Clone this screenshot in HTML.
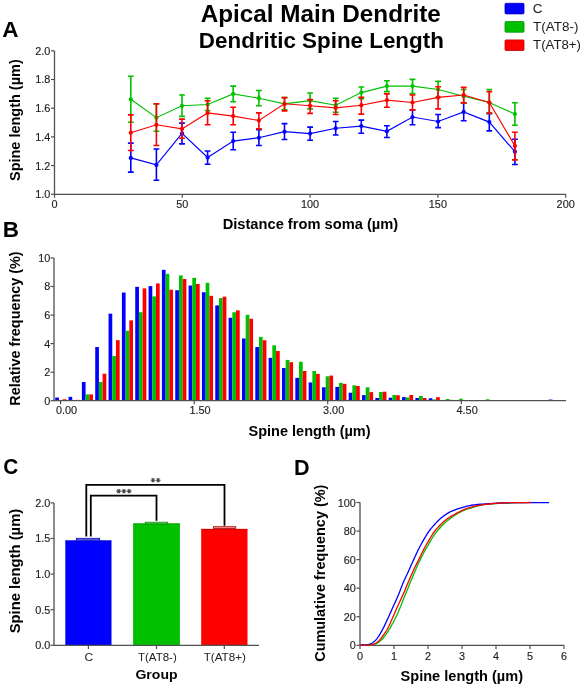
<!DOCTYPE html>
<html><head><meta charset="utf-8"><style>
html,body{margin:0;padding:0;background:#fff;}
svg{display:block;will-change:transform;filter:blur(0.3px);}
text{font-family:"Liberation Sans",sans-serif;}
.tk{font-size:11.7px;fill:#1e1e1e;stroke:#1e1e1e;stroke-width:0.15px;}
.at{font-size:13px;font-weight:bold;fill:#000;}
.t1{font-size:22px;font-weight:bold;fill:#000;}
.t2{font-size:19px;font-weight:bold;fill:#000;}
.pl{font-size:19px;font-weight:bold;fill:#000;}
.lg{font-size:14px;fill:#1a1a1a;}
.st{font-size:9px;fill:#222;}
</style></head><body>
<svg width="583" height="688" viewBox="0 0 583 688">
<rect width="583" height="688" fill="#fff"/>
<path d="M54.5 50.8V194.3H566" stroke="#505050" stroke-width="1.3" fill="none"/>
<path d="M51 194.3H54.5" stroke="#505050" stroke-width="1.2"/>
<text x="50.40" y="198.20" class="tk" text-anchor="end" textLength="15.13" lengthAdjust="spacingAndGlyphs">1.0</text>
<path d="M51 165.6H54.5" stroke="#505050" stroke-width="1.2"/>
<text x="50.40" y="169.50" class="tk" text-anchor="end" textLength="15.13" lengthAdjust="spacingAndGlyphs">1.2</text>
<path d="M51 136.9H54.5" stroke="#505050" stroke-width="1.2"/>
<text x="50.40" y="140.80" class="tk" text-anchor="end" textLength="15.13" lengthAdjust="spacingAndGlyphs">1.4</text>
<path d="M51 108.2H54.5" stroke="#505050" stroke-width="1.2"/>
<text x="50.40" y="112.10" class="tk" text-anchor="end" textLength="15.13" lengthAdjust="spacingAndGlyphs">1.6</text>
<path d="M51 79.5H54.5" stroke="#505050" stroke-width="1.2"/>
<text x="50.40" y="83.40" class="tk" text-anchor="end" textLength="15.13" lengthAdjust="spacingAndGlyphs">1.8</text>
<path d="M51 50.8H54.5" stroke="#505050" stroke-width="1.2"/>
<text x="50.40" y="54.70" class="tk" text-anchor="end" textLength="15.13" lengthAdjust="spacingAndGlyphs">2.0</text>
<path d="M54.5 194.3V197.8" stroke="#505050" stroke-width="1.2"/>
<text x="54.50" y="208.20" class="tk" text-anchor="middle" textLength="6.05" lengthAdjust="spacingAndGlyphs">0</text>
<path d="M182.3 194.3V197.8" stroke="#505050" stroke-width="1.2"/>
<text x="182.30" y="208.20" class="tk" text-anchor="middle" textLength="12.10" lengthAdjust="spacingAndGlyphs">50</text>
<path d="M310.1 194.3V197.8" stroke="#505050" stroke-width="1.2"/>
<text x="310.10" y="208.20" class="tk" text-anchor="middle" textLength="18.16" lengthAdjust="spacingAndGlyphs">100</text>
<path d="M437.9 194.3V197.8" stroke="#505050" stroke-width="1.2"/>
<text x="437.90" y="208.20" class="tk" text-anchor="middle" textLength="18.16" lengthAdjust="spacingAndGlyphs">150</text>
<path d="M565.7 194.3V197.8" stroke="#505050" stroke-width="1.2"/>
<text x="565.70" y="208.20" class="tk" text-anchor="middle" textLength="18.16" lengthAdjust="spacingAndGlyphs">200</text>
<polyline points="130.8,157.9 156.4,164.9 182.0,133.3 207.6,157.4 233.2,141.1 258.9,137.8 284.5,131.7 310.1,133.6 335.7,128.3 361.3,126.1 386.9,131.3 412.5,117.0 438.1,121.5 463.7,111.9 489.3,122.1 514.9,151.7" fill="none" stroke="#0000ff" stroke-width="1.15"/>
<path d="M130.8 143.1V172.1M127.9 143.1H133.7M127.9 172.1H133.7" stroke="#0000ff" stroke-width="1.6" fill="none"/>
<circle cx="130.8" cy="157.9" r="2.1" fill="#0000ff"/>
<path d="M156.4 149.0V180.2M153.5 149.0H159.3M153.5 180.2H159.3" stroke="#0000ff" stroke-width="1.6" fill="none"/>
<circle cx="156.4" cy="164.9" r="2.1" fill="#0000ff"/>
<path d="M182.0 123.1V143.9M179.1 123.1H184.9M179.1 143.9H184.9" stroke="#0000ff" stroke-width="1.6" fill="none"/>
<circle cx="182.0" cy="133.3" r="2.1" fill="#0000ff"/>
<path d="M207.6 151.0V164.3M204.7 151.0H210.5M204.7 164.3H210.5" stroke="#0000ff" stroke-width="1.6" fill="none"/>
<circle cx="207.6" cy="157.4" r="2.1" fill="#0000ff"/>
<path d="M233.2 132.3V149.7M230.3 132.3H236.1M230.3 149.7H236.1" stroke="#0000ff" stroke-width="1.6" fill="none"/>
<circle cx="233.2" cy="141.1" r="2.1" fill="#0000ff"/>
<path d="M258.9 129.7V145.5M256.0 129.7H261.8M256.0 145.5H261.8" stroke="#0000ff" stroke-width="1.6" fill="none"/>
<circle cx="258.9" cy="137.8" r="2.1" fill="#0000ff"/>
<path d="M284.5 123.6V139.5M281.6 123.6H287.4M281.6 139.5H287.4" stroke="#0000ff" stroke-width="1.6" fill="none"/>
<circle cx="284.5" cy="131.7" r="2.1" fill="#0000ff"/>
<path d="M310.1 127.1V140.3M307.2 127.1H313.0M307.2 140.3H313.0" stroke="#0000ff" stroke-width="1.6" fill="none"/>
<circle cx="310.1" cy="133.6" r="2.1" fill="#0000ff"/>
<path d="M335.7 121.5V135.0M332.8 121.5H338.6M332.8 135.0H338.6" stroke="#0000ff" stroke-width="1.6" fill="none"/>
<circle cx="335.7" cy="128.3" r="2.1" fill="#0000ff"/>
<path d="M361.3 120.1V133.3M358.4 120.1H364.2M358.4 133.3H364.2" stroke="#0000ff" stroke-width="1.6" fill="none"/>
<circle cx="361.3" cy="126.1" r="2.1" fill="#0000ff"/>
<path d="M386.9 125.7V137.5M384.0 125.7H389.8M384.0 137.5H389.8" stroke="#0000ff" stroke-width="1.6" fill="none"/>
<circle cx="386.9" cy="131.3" r="2.1" fill="#0000ff"/>
<path d="M412.5 109.9V124.8M409.6 109.9H415.4M409.6 124.8H415.4" stroke="#0000ff" stroke-width="1.6" fill="none"/>
<circle cx="412.5" cy="117.0" r="2.1" fill="#0000ff"/>
<path d="M438.1 114.5V127.6M435.2 114.5H441.0M435.2 127.6H441.0" stroke="#0000ff" stroke-width="1.6" fill="none"/>
<circle cx="438.1" cy="121.5" r="2.1" fill="#0000ff"/>
<path d="M463.7 102.9V120.7M460.8 102.9H466.6M460.8 120.7H466.6" stroke="#0000ff" stroke-width="1.6" fill="none"/>
<circle cx="463.7" cy="111.9" r="2.1" fill="#0000ff"/>
<path d="M489.3 113.4V130.9M486.4 113.4H492.2M486.4 130.9H492.2" stroke="#0000ff" stroke-width="1.6" fill="none"/>
<circle cx="489.3" cy="122.1" r="2.1" fill="#0000ff"/>
<path d="M514.9 139.3V164.5M512.0 139.3H517.8M512.0 164.5H517.8" stroke="#0000ff" stroke-width="1.6" fill="none"/>
<circle cx="514.9" cy="151.7" r="2.1" fill="#0000ff"/>
<polyline points="130.8,99.3 156.4,117.7 182.0,105.8 207.6,104.5 233.2,93.9 258.9,98.2 284.5,103.8 310.1,100.7 335.7,105.2 361.3,92.6 386.9,86.1 412.5,86.1 438.1,89.5 463.7,96.3 489.3,102.5 514.9,114.1" fill="none" stroke="#00c000" stroke-width="1.15"/>
<path d="M130.8 76.3V122.3M127.9 76.3H133.7M127.9 122.3H133.7" stroke="#00c000" stroke-width="1.6" fill="none"/>
<circle cx="130.8" cy="99.3" r="2.1" fill="#00c000"/>
<path d="M156.4 104.0V131.3M153.5 104.0H159.3M153.5 131.3H159.3" stroke="#00c000" stroke-width="1.6" fill="none"/>
<circle cx="156.4" cy="117.7" r="2.1" fill="#00c000"/>
<path d="M182.0 95.0V116.4M179.1 95.0H184.9M179.1 116.4H184.9" stroke="#00c000" stroke-width="1.6" fill="none"/>
<circle cx="182.0" cy="105.8" r="2.1" fill="#00c000"/>
<path d="M207.6 98.2V110.5M204.7 98.2H210.5M204.7 110.5H210.5" stroke="#00c000" stroke-width="1.6" fill="none"/>
<circle cx="207.6" cy="104.5" r="2.1" fill="#00c000"/>
<path d="M233.2 86.1V101.7M230.3 86.1H236.1M230.3 101.7H236.1" stroke="#00c000" stroke-width="1.6" fill="none"/>
<circle cx="233.2" cy="93.9" r="2.1" fill="#00c000"/>
<path d="M258.9 90.5V105.8M256.0 90.5H261.8M256.0 105.8H261.8" stroke="#00c000" stroke-width="1.6" fill="none"/>
<circle cx="258.9" cy="98.2" r="2.1" fill="#00c000"/>
<path d="M284.5 97.6V109.9M281.6 97.6H287.4M281.6 109.9H287.4" stroke="#00c000" stroke-width="1.6" fill="none"/>
<circle cx="284.5" cy="103.8" r="2.1" fill="#00c000"/>
<path d="M310.1 93.0V108.9M307.2 93.0H313.0M307.2 108.9H313.0" stroke="#00c000" stroke-width="1.6" fill="none"/>
<circle cx="310.1" cy="100.7" r="2.1" fill="#00c000"/>
<path d="M335.7 98.2V112.2M332.8 98.2H338.6M332.8 112.2H338.6" stroke="#00c000" stroke-width="1.6" fill="none"/>
<circle cx="335.7" cy="105.2" r="2.1" fill="#00c000"/>
<path d="M361.3 87.0V98.7M358.4 87.0H364.2M358.4 98.7H364.2" stroke="#00c000" stroke-width="1.6" fill="none"/>
<circle cx="361.3" cy="92.6" r="2.1" fill="#00c000"/>
<path d="M386.9 80.8V91.6M384.0 80.8H389.8M384.0 91.6H389.8" stroke="#00c000" stroke-width="1.6" fill="none"/>
<circle cx="386.9" cy="86.1" r="2.1" fill="#00c000"/>
<path d="M412.5 79.4V93.6M409.6 79.4H415.4M409.6 93.6H415.4" stroke="#00c000" stroke-width="1.6" fill="none"/>
<circle cx="412.5" cy="86.1" r="2.1" fill="#00c000"/>
<path d="M438.1 81.4V97.4M435.2 81.4H441.0M435.2 97.4H441.0" stroke="#00c000" stroke-width="1.6" fill="none"/>
<circle cx="438.1" cy="89.5" r="2.1" fill="#00c000"/>
<path d="M463.7 89.5V103.2M460.8 89.5H466.6M460.8 103.2H466.6" stroke="#00c000" stroke-width="1.6" fill="none"/>
<circle cx="463.7" cy="96.3" r="2.1" fill="#00c000"/>
<path d="M489.3 89.5V113.4M486.4 89.5H492.2M486.4 113.4H492.2" stroke="#00c000" stroke-width="1.6" fill="none"/>
<circle cx="489.3" cy="102.5" r="2.1" fill="#00c000"/>
<path d="M514.9 102.7V125.3M512.0 102.7H517.8M512.0 125.3H517.8" stroke="#00c000" stroke-width="1.6" fill="none"/>
<circle cx="514.9" cy="114.1" r="2.1" fill="#00c000"/>
<polyline points="130.8,132.7 156.4,124.8 182.0,128.9 207.6,112.9 233.2,116.1 258.9,120.5 284.5,103.8 310.1,105.8 335.7,107.9 361.3,105.2 386.9,100.2 412.5,102.5 438.1,97.4 463.7,95.0 489.3,102.5 514.9,145.9" fill="none" stroke="#ff0000" stroke-width="1.15"/>
<path d="M130.8 114.9V150.5M127.9 114.9H133.7M127.9 150.5H133.7" stroke="#ff0000" stroke-width="1.6" fill="none"/>
<circle cx="130.8" cy="132.7" r="2.1" fill="#ff0000"/>
<path d="M156.4 103.8V145.5M153.5 103.8H159.3M153.5 145.5H159.3" stroke="#ff0000" stroke-width="1.6" fill="none"/>
<circle cx="156.4" cy="124.8" r="2.1" fill="#ff0000"/>
<path d="M182.0 119.1V138.3M179.1 119.1H184.9M179.1 138.3H184.9" stroke="#ff0000" stroke-width="1.6" fill="none"/>
<circle cx="182.0" cy="128.9" r="2.1" fill="#ff0000"/>
<path d="M207.6 100.7V124.8M204.7 100.7H210.5M204.7 124.8H210.5" stroke="#ff0000" stroke-width="1.6" fill="none"/>
<circle cx="207.6" cy="112.9" r="2.1" fill="#ff0000"/>
<path d="M233.2 107.2V124.8M230.3 107.2H236.1M230.3 124.8H236.1" stroke="#ff0000" stroke-width="1.6" fill="none"/>
<circle cx="233.2" cy="116.1" r="2.1" fill="#ff0000"/>
<path d="M258.9 112.9V128.9M256.0 112.9H261.8M256.0 128.9H261.8" stroke="#ff0000" stroke-width="1.6" fill="none"/>
<circle cx="258.9" cy="120.5" r="2.1" fill="#ff0000"/>
<path d="M284.5 97.6V110.9M281.6 97.6H287.4M281.6 110.9H287.4" stroke="#ff0000" stroke-width="1.6" fill="none"/>
<circle cx="284.5" cy="103.8" r="2.1" fill="#ff0000"/>
<path d="M310.1 99.6V113.4M307.2 99.6H313.0M307.2 113.4H313.0" stroke="#ff0000" stroke-width="1.6" fill="none"/>
<circle cx="310.1" cy="105.8" r="2.1" fill="#ff0000"/>
<path d="M335.7 100.7V114.5M332.8 100.7H338.6M332.8 114.5H338.6" stroke="#ff0000" stroke-width="1.6" fill="none"/>
<circle cx="335.7" cy="107.9" r="2.1" fill="#ff0000"/>
<path d="M361.3 97.2V114.1M358.4 97.2H364.2M358.4 114.1H364.2" stroke="#ff0000" stroke-width="1.6" fill="none"/>
<circle cx="361.3" cy="105.2" r="2.1" fill="#ff0000"/>
<path d="M386.9 93.9V107.2M384.0 93.9H389.8M384.0 107.2H389.8" stroke="#ff0000" stroke-width="1.6" fill="none"/>
<circle cx="386.9" cy="100.2" r="2.1" fill="#ff0000"/>
<path d="M412.5 95.0V109.9M409.6 95.0H415.4M409.6 109.9H415.4" stroke="#ff0000" stroke-width="1.6" fill="none"/>
<circle cx="412.5" cy="102.5" r="2.1" fill="#ff0000"/>
<path d="M438.1 86.8V108.9M435.2 86.8H441.0M435.2 108.9H441.0" stroke="#ff0000" stroke-width="1.6" fill="none"/>
<circle cx="438.1" cy="97.4" r="2.1" fill="#ff0000"/>
<path d="M463.7 87.4V102.9M460.8 87.4H466.6M460.8 102.9H466.6" stroke="#ff0000" stroke-width="1.6" fill="none"/>
<circle cx="463.7" cy="95.0" r="2.1" fill="#ff0000"/>
<path d="M489.3 91.6V113.4M486.4 91.6H492.2M486.4 113.4H492.2" stroke="#ff0000" stroke-width="1.6" fill="none"/>
<circle cx="489.3" cy="102.5" r="2.1" fill="#ff0000"/>
<path d="M514.9 132.3V159.9M512.0 132.3H517.8M512.0 159.9H517.8" stroke="#ff0000" stroke-width="1.6" fill="none"/>
<circle cx="514.9" cy="145.9" r="2.1" fill="#ff0000"/>
<text x="222.65" y="228.80" textLength="175.56" lengthAdjust="spacingAndGlyphs" style="font-size:14.00px;font-weight:bold;fill:#000">Distance from soma (µm)</text>
<text transform="translate(19.50,181.03) rotate(-90)" x="0" y="0" textLength="121.75" lengthAdjust="spacingAndGlyphs" style="font-size:14.00px;font-weight:bold;fill:#000">Spine length (µm)</text>
<rect x="55.20" y="397.56" width="3.70" height="3.14" fill="#0000ff"/>
<rect x="58.90" y="399.99" width="3.70" height="0.71" fill="#00c000"/>
<rect x="62.60" y="399.27" width="3.70" height="1.43" fill="#ff0000"/>
<rect x="68.54" y="396.85" width="3.70" height="3.85" fill="#0000ff"/>
<rect x="72.24" y="400.41" width="3.70" height="0.29" fill="#00c000"/>
<rect x="75.94" y="399.84" width="3.70" height="0.86" fill="#ff0000"/>
<rect x="81.88" y="382.01" width="3.70" height="18.69" fill="#0000ff"/>
<rect x="85.58" y="394.42" width="3.70" height="6.28" fill="#00c000"/>
<rect x="89.28" y="394.42" width="3.70" height="6.28" fill="#ff0000"/>
<rect x="95.22" y="347.04" width="3.70" height="53.66" fill="#0000ff"/>
<rect x="98.92" y="382.01" width="3.70" height="18.69" fill="#00c000"/>
<rect x="102.62" y="373.73" width="3.70" height="26.97" fill="#ff0000"/>
<rect x="108.56" y="313.65" width="3.70" height="87.05" fill="#0000ff"/>
<rect x="112.26" y="356.03" width="3.70" height="44.67" fill="#00c000"/>
<rect x="115.96" y="340.20" width="3.70" height="60.50" fill="#ff0000"/>
<rect x="121.90" y="292.53" width="3.70" height="108.17" fill="#0000ff"/>
<rect x="125.60" y="330.78" width="3.70" height="69.92" fill="#00c000"/>
<rect x="129.30" y="320.36" width="3.70" height="80.34" fill="#ff0000"/>
<rect x="135.24" y="286.83" width="3.70" height="113.87" fill="#0000ff"/>
<rect x="138.94" y="312.23" width="3.70" height="88.47" fill="#00c000"/>
<rect x="142.64" y="288.40" width="3.70" height="112.30" fill="#ff0000"/>
<rect x="148.58" y="286.11" width="3.70" height="114.59" fill="#0000ff"/>
<rect x="152.28" y="296.39" width="3.70" height="104.31" fill="#00c000"/>
<rect x="155.98" y="283.40" width="3.70" height="117.30" fill="#ff0000"/>
<rect x="161.92" y="269.84" width="3.70" height="130.86" fill="#0000ff"/>
<rect x="165.62" y="273.84" width="3.70" height="126.86" fill="#00c000"/>
<rect x="169.32" y="289.68" width="3.70" height="111.02" fill="#ff0000"/>
<rect x="175.26" y="290.25" width="3.70" height="110.45" fill="#0000ff"/>
<rect x="178.96" y="275.41" width="3.70" height="125.29" fill="#00c000"/>
<rect x="182.66" y="278.98" width="3.70" height="121.72" fill="#ff0000"/>
<rect x="188.60" y="285.54" width="3.70" height="115.16" fill="#0000ff"/>
<rect x="192.30" y="277.84" width="3.70" height="122.86" fill="#00c000"/>
<rect x="196.00" y="283.97" width="3.70" height="116.73" fill="#ff0000"/>
<rect x="201.94" y="292.25" width="3.70" height="108.45" fill="#0000ff"/>
<rect x="205.64" y="282.83" width="3.70" height="117.87" fill="#00c000"/>
<rect x="209.34" y="295.82" width="3.70" height="104.88" fill="#ff0000"/>
<rect x="215.28" y="305.38" width="3.70" height="95.32" fill="#0000ff"/>
<rect x="218.98" y="298.10" width="3.70" height="102.60" fill="#00c000"/>
<rect x="222.68" y="296.67" width="3.70" height="104.03" fill="#ff0000"/>
<rect x="228.62" y="317.79" width="3.70" height="82.91" fill="#0000ff"/>
<rect x="232.32" y="312.23" width="3.70" height="88.47" fill="#00c000"/>
<rect x="236.02" y="310.37" width="3.70" height="90.33" fill="#ff0000"/>
<rect x="241.96" y="338.48" width="3.70" height="62.22" fill="#0000ff"/>
<rect x="245.66" y="314.79" width="3.70" height="85.91" fill="#00c000"/>
<rect x="249.36" y="318.79" width="3.70" height="81.91" fill="#ff0000"/>
<rect x="255.30" y="347.04" width="3.70" height="53.66" fill="#0000ff"/>
<rect x="259.00" y="336.91" width="3.70" height="63.79" fill="#00c000"/>
<rect x="262.70" y="340.20" width="3.70" height="60.50" fill="#ff0000"/>
<rect x="268.64" y="357.89" width="3.70" height="42.81" fill="#0000ff"/>
<rect x="272.34" y="345.33" width="3.70" height="55.37" fill="#00c000"/>
<rect x="276.04" y="351.04" width="3.70" height="49.66" fill="#ff0000"/>
<rect x="281.98" y="368.02" width="3.70" height="32.68" fill="#0000ff"/>
<rect x="285.68" y="359.89" width="3.70" height="40.81" fill="#00c000"/>
<rect x="289.38" y="362.17" width="3.70" height="38.53" fill="#ff0000"/>
<rect x="295.32" y="377.87" width="3.70" height="22.83" fill="#0000ff"/>
<rect x="299.02" y="361.74" width="3.70" height="38.96" fill="#00c000"/>
<rect x="302.72" y="371.02" width="3.70" height="29.68" fill="#ff0000"/>
<rect x="308.66" y="382.43" width="3.70" height="18.27" fill="#0000ff"/>
<rect x="312.36" y="371.02" width="3.70" height="29.68" fill="#00c000"/>
<rect x="316.06" y="373.87" width="3.70" height="26.83" fill="#ff0000"/>
<rect x="322.00" y="387.29" width="3.70" height="13.41" fill="#0000ff"/>
<rect x="325.70" y="376.30" width="3.70" height="24.40" fill="#00c000"/>
<rect x="329.40" y="375.58" width="3.70" height="25.12" fill="#ff0000"/>
<rect x="335.34" y="386.86" width="3.70" height="13.84" fill="#0000ff"/>
<rect x="339.04" y="382.86" width="3.70" height="17.84" fill="#00c000"/>
<rect x="342.74" y="383.86" width="3.70" height="16.84" fill="#ff0000"/>
<rect x="348.68" y="392.71" width="3.70" height="7.99" fill="#0000ff"/>
<rect x="352.38" y="385.29" width="3.70" height="15.41" fill="#00c000"/>
<rect x="356.08" y="386.00" width="3.70" height="14.70" fill="#ff0000"/>
<rect x="362.02" y="395.13" width="3.70" height="5.57" fill="#0000ff"/>
<rect x="365.72" y="387.29" width="3.70" height="13.41" fill="#00c000"/>
<rect x="369.42" y="392.14" width="3.70" height="8.56" fill="#ff0000"/>
<rect x="375.36" y="397.99" width="3.70" height="2.71" fill="#0000ff"/>
<rect x="379.06" y="392.00" width="3.70" height="8.70" fill="#00c000"/>
<rect x="382.76" y="391.71" width="3.70" height="8.99" fill="#ff0000"/>
<rect x="388.70" y="397.70" width="3.70" height="3.00" fill="#0000ff"/>
<rect x="392.40" y="394.99" width="3.70" height="5.71" fill="#00c000"/>
<rect x="396.10" y="395.28" width="3.70" height="5.42" fill="#ff0000"/>
<rect x="402.04" y="397.13" width="3.70" height="3.57" fill="#0000ff"/>
<rect x="405.74" y="397.42" width="3.70" height="3.28" fill="#00c000"/>
<rect x="409.44" y="394.99" width="3.70" height="5.71" fill="#ff0000"/>
<rect x="415.38" y="397.99" width="3.70" height="2.71" fill="#0000ff"/>
<rect x="419.08" y="395.99" width="3.70" height="4.71" fill="#00c000"/>
<rect x="422.78" y="397.99" width="3.70" height="2.71" fill="#ff0000"/>
<rect x="428.72" y="398.27" width="3.70" height="2.43" fill="#0000ff"/>
<rect x="432.42" y="399.42" width="3.70" height="1.28" fill="#00c000"/>
<rect x="436.12" y="397.13" width="3.70" height="3.57" fill="#ff0000"/>
<rect x="442.06" y="399.99" width="3.70" height="0.71" fill="#0000ff"/>
<rect x="445.76" y="398.99" width="3.70" height="1.71" fill="#00c000"/>
<rect x="449.46" y="399.84" width="3.70" height="0.86" fill="#ff0000"/>
<rect x="455.40" y="400.27" width="3.70" height="0.43" fill="#0000ff"/>
<rect x="459.10" y="398.70" width="3.70" height="2.00" fill="#00c000"/>
<rect x="462.80" y="400.41" width="3.70" height="0.29" fill="#ff0000"/>
<rect x="468.74" y="400.27" width="3.70" height="0.43" fill="#0000ff"/>
<rect x="472.44" y="400.27" width="3.70" height="0.43" fill="#00c000"/>
<rect x="476.14" y="400.27" width="3.70" height="0.43" fill="#ff0000"/>
<rect x="485.78" y="399.27" width="3.70" height="1.43" fill="#00c000"/>
<rect x="495.42" y="400.41" width="3.70" height="0.29" fill="#0000ff"/>
<rect x="499.12" y="400.41" width="3.70" height="0.29" fill="#00c000"/>
<rect x="502.82" y="400.13" width="3.70" height="0.57" fill="#ff0000"/>
<rect x="548.78" y="399.56" width="3.70" height="1.14" fill="#0000ff"/>
<path d="M54 258V400.7H566" stroke="#505050" stroke-width="1.3" fill="none"/>
<path d="M50.5 400.7H54" stroke="#505050" stroke-width="1.2"/>
<text x="50.40" y="404.60" class="tk" text-anchor="end" textLength="6.05" lengthAdjust="spacingAndGlyphs">0</text>
<path d="M50.5 372.2H54" stroke="#505050" stroke-width="1.2"/>
<text x="50.40" y="376.06" class="tk" text-anchor="end" textLength="6.05" lengthAdjust="spacingAndGlyphs">2</text>
<path d="M50.5 343.6H54" stroke="#505050" stroke-width="1.2"/>
<text x="50.40" y="347.52" class="tk" text-anchor="end" textLength="6.05" lengthAdjust="spacingAndGlyphs">4</text>
<path d="M50.5 315.1H54" stroke="#505050" stroke-width="1.2"/>
<text x="50.40" y="318.98" class="tk" text-anchor="end" textLength="6.05" lengthAdjust="spacingAndGlyphs">6</text>
<path d="M50.5 286.5H54" stroke="#505050" stroke-width="1.2"/>
<text x="50.40" y="290.44" class="tk" text-anchor="end" textLength="6.05" lengthAdjust="spacingAndGlyphs">8</text>
<path d="M50.5 258.0H54" stroke="#505050" stroke-width="1.2"/>
<text x="50.40" y="261.90" class="tk" text-anchor="end" textLength="12.10" lengthAdjust="spacingAndGlyphs">10</text>
<path d="M60.6 400.7V404.2" stroke="#505050" stroke-width="1.2"/>
<text x="66.50" y="414.20" class="tk" text-anchor="middle" textLength="21.18" lengthAdjust="spacingAndGlyphs">0.00</text>
<path d="M194.2 400.7V404.2" stroke="#505050" stroke-width="1.2"/>
<text x="200.05" y="414.20" class="tk" text-anchor="middle" textLength="21.18" lengthAdjust="spacingAndGlyphs">1.50</text>
<path d="M327.7 400.7V404.2" stroke="#505050" stroke-width="1.2"/>
<text x="333.60" y="414.20" class="tk" text-anchor="middle" textLength="21.18" lengthAdjust="spacingAndGlyphs">3.00</text>
<path d="M461.3 400.7V404.2" stroke="#505050" stroke-width="1.2"/>
<text x="467.15" y="414.20" class="tk" text-anchor="middle" textLength="21.18" lengthAdjust="spacingAndGlyphs">4.50</text>
<text x="248.46" y="436.00" textLength="122.15" lengthAdjust="spacingAndGlyphs" style="font-size:14.00px;font-weight:bold;fill:#000">Spine length (µm)</text>
<text transform="translate(19.60,405.74) rotate(-90)" x="0" y="0" textLength="154.40" lengthAdjust="spacingAndGlyphs" style="font-size:14.00px;font-weight:bold;fill:#000">Relative frequency (%)</text>
<rect x="65.3" y="540.4" width="46.2" height="104.9" fill="#0000ff"/>
<path d="M65.3 540.9H111.5" stroke="#0000b0" stroke-width="0.9" opacity="0.6"/>
<rect x="76.3" y="538.3" width="23.4" height="1.7" fill="#9090ff" stroke="#0000b0" stroke-width="0.8"/>
<path d="M88.0 540.0V540.4" stroke="#0000b0" stroke-width="1.0"/>
<rect x="133.1" y="523.4" width="46.8" height="121.9" fill="#00c000"/>
<path d="M133.1 523.9H179.9" stroke="#008800" stroke-width="0.9" opacity="0.6"/>
<rect x="145.3" y="522.2" width="22.4" height="1.7" fill="#80e080" stroke="#008800" stroke-width="0.8"/>
<path d="M156.5 523.9V523.4" stroke="#008800" stroke-width="1.0"/>
<rect x="201.2" y="528.9" width="46.3" height="116.4" fill="#ff0000"/>
<path d="M201.2 529.4H247.5" stroke="#b00000" stroke-width="0.9" opacity="0.6"/>
<rect x="213.4" y="526.7" width="22.4" height="1.7" fill="#ff9090" stroke="#b00000" stroke-width="0.8"/>
<path d="M224.6 528.4V528.9" stroke="#b00000" stroke-width="1.0"/>
<path d="M54 503V645.3H259" stroke="#505050" stroke-width="1.3" fill="none"/>
<path d="M50.5 645.3H54" stroke="#505050" stroke-width="1.2"/>
<text x="50.40" y="649.20" class="tk" text-anchor="end" textLength="15.13" lengthAdjust="spacingAndGlyphs">0.0</text>
<path d="M50.5 609.7H54" stroke="#505050" stroke-width="1.2"/>
<text x="50.40" y="613.60" class="tk" text-anchor="end" textLength="15.13" lengthAdjust="spacingAndGlyphs">0.5</text>
<path d="M50.5 574.1H54" stroke="#505050" stroke-width="1.2"/>
<text x="50.40" y="578.00" class="tk" text-anchor="end" textLength="15.13" lengthAdjust="spacingAndGlyphs">1.0</text>
<path d="M50.5 538.5H54" stroke="#505050" stroke-width="1.2"/>
<text x="50.40" y="542.40" class="tk" text-anchor="end" textLength="15.13" lengthAdjust="spacingAndGlyphs">1.5</text>
<path d="M50.5 502.9H54" stroke="#505050" stroke-width="1.2"/>
<text x="50.40" y="506.80" class="tk" text-anchor="end" textLength="15.13" lengthAdjust="spacingAndGlyphs">2.0</text>
<path d="M88.4 645.3V649.0" stroke="#505050" stroke-width="1.2"/>
<path d="M156.5 645.3V649.0" stroke="#505050" stroke-width="1.2"/>
<path d="M224.3 645.3V649.0" stroke="#505050" stroke-width="1.2"/>
<text x="84.50" y="660.60" textLength="8.64" lengthAdjust="spacingAndGlyphs" style="font-size:11.30px;font-weight:normal;fill:#222">C</text>
<text x="137.97" y="660.60" textLength="38.78" lengthAdjust="spacingAndGlyphs" style="font-size:11.30px;font-weight:normal;fill:#222">T(AT8-)</text>
<text x="203.67" y="660.60" textLength="42.34" lengthAdjust="spacingAndGlyphs" style="font-size:11.30px;font-weight:normal;fill:#222">T(AT8+)</text>
<text x="135.44" y="679.20" textLength="42.12" lengthAdjust="spacingAndGlyphs" style="font-size:13.50px;font-weight:bold;fill:#000">Group</text>
<text transform="translate(19.50,633.34) rotate(-90)" x="0" y="0" textLength="124.58" lengthAdjust="spacingAndGlyphs" style="font-size:14.00px;font-weight:bold;fill:#000">Spine length (µm)</text>
<path d="M86.3 536.5V484.9H224.5V525.7" stroke="#000" stroke-width="1.8" fill="none"/>
<path d="M90.8 536.5V495.7H156.5V520.8" stroke="#000" stroke-width="1.8" fill="none"/>
<path d="M116.30 491.10L121.10 491.10M117.50 489.02L119.90 493.18M119.90 489.02L117.50 493.18" stroke="#444" stroke-width="1.05" fill="none"/>
<path d="M121.50 491.10L126.30 491.10M122.70 489.02L125.10 493.18M125.10 489.02L122.70 493.18" stroke="#444" stroke-width="1.05" fill="none"/>
<path d="M126.70 491.10L131.50 491.10M127.90 489.02L130.30 493.18M130.30 489.02L127.90 493.18" stroke="#444" stroke-width="1.05" fill="none"/>
<path d="M150.60 480.20L155.40 480.20M151.80 478.12L154.20 482.28M154.20 478.12L151.80 482.28" stroke="#444" stroke-width="1.05" fill="none"/>
<path d="M155.80 480.20L160.60 480.20M157.00 478.12L159.40 482.28M159.40 478.12L157.00 482.28" stroke="#444" stroke-width="1.05" fill="none"/>
<path d="M360 502.3V645.3H564" stroke="#505050" stroke-width="1.3" fill="none"/>
<path d="M356.5 645.3H360" stroke="#505050" stroke-width="1.2"/>
<text x="355.80" y="649.30" class="tk" text-anchor="end" textLength="6.05" lengthAdjust="spacingAndGlyphs">0</text>
<path d="M356.5 616.7H360" stroke="#505050" stroke-width="1.2"/>
<text x="355.80" y="620.74" class="tk" text-anchor="end" textLength="12.10" lengthAdjust="spacingAndGlyphs">20</text>
<path d="M356.5 588.2H360" stroke="#505050" stroke-width="1.2"/>
<text x="355.80" y="592.18" class="tk" text-anchor="end" textLength="12.10" lengthAdjust="spacingAndGlyphs">40</text>
<path d="M356.5 559.6H360" stroke="#505050" stroke-width="1.2"/>
<text x="355.80" y="563.62" class="tk" text-anchor="end" textLength="12.10" lengthAdjust="spacingAndGlyphs">60</text>
<path d="M356.5 531.1H360" stroke="#505050" stroke-width="1.2"/>
<text x="355.80" y="535.06" class="tk" text-anchor="end" textLength="12.10" lengthAdjust="spacingAndGlyphs">80</text>
<path d="M356.5 502.5H360" stroke="#505050" stroke-width="1.2"/>
<text x="355.80" y="506.50" class="tk" text-anchor="end" textLength="18.16" lengthAdjust="spacingAndGlyphs">100</text>
<path d="M360.0 645.3V649" stroke="#505050" stroke-width="1.2"/>
<text x="360.00" y="659.60" class="tk" text-anchor="middle" textLength="6.05" lengthAdjust="spacingAndGlyphs">0</text>
<path d="M394.0 645.3V649" stroke="#505050" stroke-width="1.2"/>
<text x="394.00" y="659.60" class="tk" text-anchor="middle" textLength="6.05" lengthAdjust="spacingAndGlyphs">1</text>
<path d="M428.0 645.3V649" stroke="#505050" stroke-width="1.2"/>
<text x="428.00" y="659.60" class="tk" text-anchor="middle" textLength="6.05" lengthAdjust="spacingAndGlyphs">2</text>
<path d="M462.0 645.3V649" stroke="#505050" stroke-width="1.2"/>
<text x="462.00" y="659.60" class="tk" text-anchor="middle" textLength="6.05" lengthAdjust="spacingAndGlyphs">3</text>
<path d="M496.0 645.3V649" stroke="#505050" stroke-width="1.2"/>
<text x="496.00" y="659.60" class="tk" text-anchor="middle" textLength="6.05" lengthAdjust="spacingAndGlyphs">4</text>
<path d="M530.0 645.3V649" stroke="#505050" stroke-width="1.2"/>
<text x="530.00" y="659.60" class="tk" text-anchor="middle" textLength="6.05" lengthAdjust="spacingAndGlyphs">5</text>
<path d="M564.0 645.3V649" stroke="#505050" stroke-width="1.2"/>
<text x="564.00" y="659.60" class="tk" text-anchor="middle" textLength="6.05" lengthAdjust="spacingAndGlyphs">6</text>
<path d="M360.00 645.30 L360.85 645.27 L361.70 645.24 L362.55 645.23 L363.40 645.23 L364.25 645.22 L365.10 645.22 L365.95 645.22 L366.80 645.21 L367.65 645.20 L368.50 645.17 L369.35 645.12 L370.20 645.03 L371.05 644.92 L371.90 644.76 L372.75 644.57 L373.60 644.37 L374.45 644.14 L375.30 643.88 L376.15 643.57 L377.00 643.19 L377.85 642.71 L378.70 642.15 L379.55 641.51 L380.40 640.80 L381.25 640.02 L382.10 639.18 L382.95 638.26 L383.80 637.26 L384.65 636.19 L385.50 635.05 L386.35 633.84 L387.20 632.59 L388.05 631.29 L388.90 629.94 L389.75 628.54 L390.60 627.09 L391.45 625.59 L392.30 624.05 L393.15 622.47 L394.00 620.85 L394.85 619.20 L395.70 617.51 L396.55 615.76 L397.40 613.95 L398.25 612.07 L399.10 610.09 L399.95 608.01 L400.80 605.88 L401.65 603.71 L402.50 601.55 L403.35 599.42 L404.20 597.33 L405.05 595.24 L405.90 593.15 L406.75 591.07 L407.60 589.00 L408.45 586.93 L409.30 584.87 L410.15 582.81 L411.00 580.76 L411.85 578.72 L412.70 576.69 L413.55 574.68 L414.40 572.68 L415.25 570.67 L416.10 568.68 L416.95 566.72 L417.80 564.80 L418.65 562.93 L419.50 561.12 L420.35 559.36 L421.20 557.63 L422.05 555.95 L422.90 554.31 L423.75 552.70 L424.60 551.15 L425.45 549.65 L426.30 548.19 L427.15 546.75 L428.00 545.32 L428.85 543.88 L429.70 542.42 L430.55 540.93 L431.40 539.45 L432.25 538.00 L433.10 536.62 L433.95 535.32 L434.80 534.12 L435.65 533.01 L436.50 531.95 L437.35 530.94 L438.20 529.95 L439.05 528.96 L439.90 527.97 L440.75 527.00 L441.60 526.06 L442.45 525.14 L443.30 524.27 L444.15 523.44 L445.00 522.68 L445.85 521.97 L446.70 521.30 L447.55 520.66 L448.40 520.02 L449.25 519.37 L450.10 518.70 L450.95 518.03 L451.80 517.36 L452.65 516.71 L453.50 516.08 L454.35 515.49 L455.20 514.94 L456.05 514.41 L456.90 513.92 L457.75 513.44 L458.60 512.98 L459.45 512.53 L460.30 512.09 L461.15 511.66 L462.00 511.24 L462.85 510.84 L463.70 510.46 L464.55 510.10 L465.40 509.76 L466.25 509.45 L467.10 509.15 L467.95 508.87 L468.80 508.59 L469.65 508.32 L470.50 508.05 L471.35 507.78 L472.20 507.52 L473.05 507.27 L473.90 507.02 L474.75 506.78 L475.60 506.54 L476.45 506.30 L477.30 506.07 L478.15 505.85 L479.00 505.64 L479.85 505.44 L480.70 505.27 L481.55 505.11 L482.40 504.96 L483.25 504.83 L484.10 504.70 L484.95 504.58 L485.80 504.46 L486.65 504.36 L487.50 504.26 L488.35 504.17 L489.20 504.09 L490.05 504.01 L490.90 503.94 L491.75 503.89 L492.60 503.84 L493.45 503.79 L494.30 503.74 L495.15 503.68 L496.00 503.61 L496.85 503.52 L497.70 503.43 L498.55 503.35 L499.40 503.27 L500.25 503.21 L501.10 503.17 L501.95 503.14 L502.80 503.13 L503.65 503.12 L504.50 503.10 L505.35 503.08 L506.20 503.06 L507.05 503.03 L507.90 503.00 L508.75 502.97 L509.60 502.94 L510.45 502.91 L511.30 502.88 L512.15 502.84 L513.00 502.80 L513.85 502.77 L514.70 502.74 L515.55 502.71 L516.40 502.70 L517.25 502.69 L518.10 502.69 L518.95 502.69 L519.80 502.68 L520.65 502.67 L521.50 502.65 L522.35 502.63 L523.20 502.60 L524.05 502.57 L524.90 502.55 L525.75 502.53 L526.60 502.52 L526.60 502.52" fill="none" stroke="#00c000" stroke-width="1.3"/>
<path d="M360.00 645.30 L360.85 645.19 L361.70 645.08 L362.55 644.99 L363.40 644.93 L364.25 644.90 L365.10 644.87 L365.95 644.82 L366.80 644.74 L367.65 644.61 L368.50 644.43 L369.35 644.23 L370.20 643.99 L371.05 643.68 L371.90 643.28 L372.75 642.75 L373.60 642.10 L374.45 641.35 L375.30 640.51 L376.15 639.57 L377.00 638.54 L377.85 637.41 L378.70 636.19 L379.55 634.85 L380.40 633.43 L381.25 631.93 L382.10 630.37 L382.95 628.76 L383.80 627.10 L384.65 625.36 L385.50 623.56 L386.35 621.72 L387.20 619.86 L388.05 618.01 L388.90 616.16 L389.75 614.29 L390.60 612.39 L391.45 610.49 L392.30 608.59 L393.15 606.70 L394.00 604.82 L394.85 602.97 L395.70 601.11 L396.55 599.23 L397.40 597.30 L398.25 595.31 L399.10 593.21 L399.95 591.02 L400.80 588.78 L401.65 586.55 L402.50 584.37 L403.35 582.30 L404.20 580.36 L405.05 578.51 L405.90 576.72 L406.75 574.94 L407.60 573.16 L408.45 571.33 L409.30 569.44 L410.15 567.52 L411.00 565.59 L411.85 563.66 L412.70 561.76 L413.55 559.88 L414.40 558.03 L415.25 556.19 L416.10 554.37 L416.95 552.57 L417.80 550.82 L418.65 549.10 L419.50 547.43 L420.35 545.80 L421.20 544.21 L422.05 542.65 L422.90 541.12 L423.75 539.63 L424.60 538.16 L425.45 536.71 L426.30 535.30 L427.15 533.94 L428.00 532.63 L428.85 531.39 L429.70 530.23 L430.55 529.14 L431.40 528.12 L432.25 527.13 L433.10 526.16 L433.95 525.21 L434.80 524.26 L435.65 523.33 L436.50 522.42 L437.35 521.54 L438.20 520.69 L439.05 519.87 L439.90 519.09 L440.75 518.34 L441.60 517.62 L442.45 516.92 L443.30 516.26 L444.15 515.62 L445.00 515.01 L445.85 514.43 L446.70 513.87 L447.55 513.34 L448.40 512.84 L449.25 512.37 L450.10 511.93 L450.95 511.53 L451.80 511.15 L452.65 510.79 L453.50 510.44 L454.35 510.10 L455.20 509.77 L456.05 509.45 L456.90 509.14 L457.75 508.84 L458.60 508.56 L459.45 508.29 L460.30 508.04 L461.15 507.81 L462.00 507.59 L462.85 507.38 L463.70 507.17 L464.55 506.95 L465.40 506.72 L466.25 506.48 L467.10 506.23 L467.95 505.99 L468.80 505.77 L469.65 505.58 L470.50 505.41 L471.35 505.26 L472.20 505.13 L473.05 505.01 L473.90 504.90 L474.75 504.78 L475.60 504.67 L476.45 504.57 L477.30 504.47 L478.15 504.38 L479.00 504.30 L479.85 504.23 L480.70 504.17 L481.55 504.12 L482.40 504.08 L483.25 504.04 L484.10 504.00 L484.95 503.96 L485.80 503.91 L486.65 503.87 L487.50 503.82 L488.35 503.77 L489.20 503.72 L490.05 503.66 L490.90 503.61 L491.75 503.55 L492.60 503.48 L493.45 503.42 L494.30 503.36 L495.15 503.31 L496.00 503.26 L496.85 503.21 L497.70 503.17 L498.55 503.12 L499.40 503.08 L500.25 503.04 L501.10 503.00 L501.95 502.95 L502.80 502.91 L503.65 502.86 L504.50 502.83 L505.35 502.80 L506.20 502.78 L507.05 502.76 L507.90 502.75 L508.75 502.74 L509.60 502.74 L510.45 502.73 L511.30 502.72 L512.15 502.71 L513.00 502.70 L513.85 502.70 L514.70 502.69 L515.55 502.68 L516.40 502.68 L517.25 502.67 L518.10 502.66 L518.95 502.65 L519.80 502.64 L520.65 502.64 L521.50 502.64 L522.35 502.64 L523.20 502.64 L524.05 502.64 L524.90 502.64 L525.75 502.64 L526.60 502.64 L527.45 502.63 L528.30 502.63 L529.15 502.62 L530.00 502.62 L530.85 502.61 L531.70 502.61 L532.55 502.61 L533.40 502.61 L534.25 502.61 L535.10 502.61 L535.95 502.61 L536.80 502.61 L537.65 502.61 L538.50 502.61 L539.35 502.61 L540.20 502.61 L541.05 502.61 L541.90 502.61 L542.75 502.61 L543.60 502.61 L544.45 502.61 L545.30 502.61 L546.15 502.61 L547.00 502.61 L547.85 502.59 L548.70 502.57 L549.04 502.56" fill="none" stroke="#0000ff" stroke-width="1.3"/>
<path d="M360.00 645.30 L360.85 645.25 L361.70 645.19 L362.55 645.16 L363.40 645.14 L364.25 645.14 L365.10 645.13 L365.95 645.12 L366.80 645.10 L367.65 645.07 L368.50 645.04 L369.35 645.00 L370.20 644.94 L371.05 644.84 L371.90 644.68 L372.75 644.45 L373.60 644.16 L374.45 643.83 L375.30 643.44 L376.15 642.98 L377.00 642.43 L377.85 641.77 L378.70 640.98 L379.55 640.08 L380.40 639.09 L381.25 638.02 L382.10 636.90 L382.95 635.75 L383.80 634.57 L384.65 633.35 L385.50 632.07 L386.35 630.73 L387.20 629.29 L388.05 627.76 L388.90 626.08 L389.75 624.29 L390.60 622.40 L391.45 620.46 L392.30 618.51 L393.15 616.58 L394.00 614.66 L394.85 612.71 L395.70 610.74 L396.55 608.78 L397.40 606.83 L398.25 604.92 L399.10 603.05 L399.95 601.23 L400.80 599.42 L401.65 597.61 L402.50 595.77 L403.35 593.87 L404.20 591.91 L405.05 589.90 L405.90 587.85 L406.75 585.80 L407.60 583.77 L408.45 581.76 L409.30 579.79 L410.15 577.81 L411.00 575.85 L411.85 573.92 L412.70 572.01 L413.55 570.15 L414.40 568.34 L415.25 566.58 L416.10 564.86 L416.95 563.15 L417.80 561.44 L418.65 559.72 L419.50 557.97 L420.35 556.21 L421.20 554.45 L422.05 552.72 L422.90 551.02 L423.75 549.37 L424.60 547.79 L425.45 546.24 L426.30 544.74 L427.15 543.27 L428.00 541.82 L428.85 540.39 L429.70 538.95 L430.55 537.53 L431.40 536.13 L432.25 534.77 L433.10 533.46 L433.95 532.24 L434.80 531.10 L435.65 530.03 L436.50 529.03 L437.35 528.07 L438.20 527.14 L439.05 526.22 L439.90 525.32 L440.75 524.45 L441.60 523.61 L442.45 522.80 L443.30 522.03 L444.15 521.28 L445.00 520.57 L445.85 519.89 L446.70 519.24 L447.55 518.62 L448.40 518.02 L449.25 517.45 L450.10 516.90 L450.95 516.39 L451.80 515.90 L452.65 515.43 L453.50 514.96 L454.35 514.49 L455.20 514.03 L456.05 513.58 L456.90 513.13 L457.75 512.69 L458.60 512.26 L459.45 511.83 L460.30 511.39 L461.15 510.95 L462.00 510.51 L462.85 510.09 L463.70 509.69 L464.55 509.33 L465.40 509.00 L466.25 508.70 L467.10 508.43 L467.95 508.16 L468.80 507.91 L469.65 507.65 L470.50 507.39 L471.35 507.13 L472.20 506.87 L473.05 506.62 L473.90 506.40 L474.75 506.19 L475.60 506.01 L476.45 505.86 L477.30 505.73 L478.15 505.60 L479.00 505.48 L479.85 505.34 L480.70 505.19 L481.55 505.03 L482.40 504.87 L483.25 504.72 L484.10 504.57 L484.95 504.44 L485.80 504.33 L486.65 504.24 L487.50 504.15 L488.35 504.07 L489.20 503.99 L490.05 503.91 L490.90 503.81 L491.75 503.71 L492.60 503.60 L493.45 503.51 L494.30 503.42 L495.15 503.34 L496.00 503.28 L496.85 503.23 L497.70 503.19 L498.55 503.15 L499.40 503.11 L500.25 503.07 L501.10 503.01 L501.95 502.95 L502.80 502.88 L503.65 502.81 L504.50 502.76 L505.35 502.71 L506.20 502.68 L507.05 502.66 L507.90 502.65 L508.75 502.64 L509.60 502.64 L510.45 502.63 L511.30 502.62 L512.15 502.61 L513.00 502.61 L513.85 502.61 L514.70 502.60 L515.55 502.60 L516.40 502.59 L517.25 502.58 L518.10 502.57 L518.95 502.57 L519.80 502.56 L520.65 502.56 L521.50 502.56 L522.35 502.56 L523.20 502.56 L524.05 502.56 L524.90 502.56 L525.75 502.56 L526.60 502.55 L527.45 502.54 L528.30 502.53 L529.15 502.51 L530.00 502.50 L530.68 502.50" fill="none" stroke="#ff0000" stroke-width="1.3"/>
<text x="400.56" y="680.60" textLength="122.46" lengthAdjust="spacingAndGlyphs" style="font-size:14.00px;font-weight:bold;fill:#000">Spine length (µm)</text>
<text transform="translate(324.90,661.78) rotate(-90)" x="0" y="0" textLength="177.13" lengthAdjust="spacingAndGlyphs" style="font-size:14.00px;font-weight:bold;fill:#000">Cumulative frequency (%)</text>
<text x="200.79" y="22.20" textLength="239.97" lengthAdjust="spacingAndGlyphs" style="font-size:23.80px;font-weight:bold;fill:#000">Apical Main Dendrite</text>
<text x="198.85" y="47.80" textLength="245.00" lengthAdjust="spacingAndGlyphs" style="font-size:21.60px;font-weight:bold;fill:#000">Dendritic Spine Length</text>
<text x="2.34" y="36.90" textLength="16.28" lengthAdjust="spacingAndGlyphs" style="font-size:22.80px;font-weight:bold;fill:#000">A</text>
<text x="2.84" y="236.90" textLength="16.22" lengthAdjust="spacingAndGlyphs" style="font-size:22.80px;font-weight:bold;fill:#000">B</text>
<text x="3.17" y="474.40" textLength="15.00" lengthAdjust="spacingAndGlyphs" style="font-size:22.80px;font-weight:bold;fill:#000">C</text>
<text x="294.09" y="474.50" textLength="15.62" lengthAdjust="spacingAndGlyphs" style="font-size:22.80px;font-weight:bold;fill:#000">D</text>
<rect x="505" y="3.3" width="19" height="10.6" rx="1" fill="#0000ff" stroke="#0000b8" stroke-width="0.8"/>
<text x="532.72" y="12.90" textLength="9.78" lengthAdjust="spacingAndGlyphs" style="font-size:13.00px;font-weight:normal;fill:#1a1a1a">C</text>
<rect x="505" y="21.6" width="19" height="10.6" rx="1" fill="#00c000" stroke="#009000" stroke-width="0.8"/>
<text x="533.13" y="31.00" textLength="45.24" lengthAdjust="spacingAndGlyphs" style="font-size:13.00px;font-weight:normal;fill:#1a1a1a">T(AT8-)</text>
<rect x="505" y="39.9" width="19" height="10.6" rx="1" fill="#ff0000" stroke="#c80000" stroke-width="0.8"/>
<text x="533.14" y="49.00" textLength="47.87" lengthAdjust="spacingAndGlyphs" style="font-size:13.00px;font-weight:normal;fill:#1a1a1a">T(AT8+)</text>
</svg></body></html>
